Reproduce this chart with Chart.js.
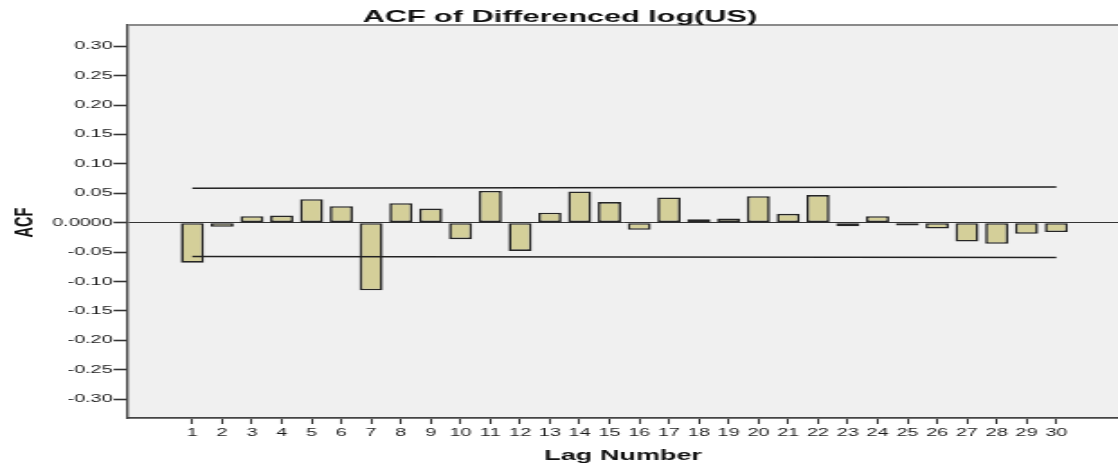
<!DOCTYPE html>
<html>
<head>
<meta charset="utf-8">
<script src="https://cdn.jsdelivr.net/npm/chart.js@4.4.1/dist/chart.umd.min.js"></script>
<style>
  html, body { margin: 0; padding: 0; background: #ffffff; overflow: hidden; }
  #wrap { width: 621px; height: 468px; transform: scaleX(1.8003); transform-origin: 0 0; }
</style>
</head>
<body>
<div id="wrap"><canvas id="c" width="621" height="468"></canvas></div>
<script>
// ---- data ----
const lags = [1,2,3,4,5,6,7,8,9,10,11,12,13,14,15,16,17,18,19,20,21,22,23,24,25,26,27,28,29,30];
const acfValues = [-0.068,-0.007,0.011,0.012,0.040,0.028,-0.115,0.033,0.024,-0.028,
                   0.054,-0.048,0.017,0.053,0.035,-0.012,0.043,0.006,0.007,0.045,
                   0.015,0.047,-0.006,0.011,-0.005,-0.010,-0.032,-0.036,-0.019,-0.016];
const limitLags = [1, 30];
const upperLimit = [0.0585, 0.0605];
const lowerLimit = [-0.0575, -0.0590];
const yTickValues = [0.30,0.25,0.20,0.15,0.10,0.05,0,-0.05,-0.10,-0.15,-0.20,-0.25,-0.30];
const yTickLabels = ['0.30','0.25','0.20','0.15','0.10','0.05','0.0000','-0.05','-0.10','-0.15','-0.20','-0.25','-0.30'];
const titleText = 'ACF of Differenced log(US)';
const xTitleText = 'Lag Number';
const yTitleText = 'ACF';

const FONT = '"Liberation Sans", Arial, sans-serif';

const plotBg = {
  id: 'plotBg',
  beforeDraw(chart) {
    const {ctx, chartArea: a} = chart;
    ctx.save();
    ctx.fillStyle = '#f0f0f0';
    ctx.fillRect(a.left, a.top, a.right - a.left, a.bottom - a.top);
    ctx.restore();
  },
  afterDraw(chart) {
    const {ctx, chartArea: a} = chart;
    ctx.save();
    ctx.strokeStyle = '#8a8a8a';
    ctx.lineWidth = 2;
    ctx.beginPath();
    ctx.moveTo(a.left, a.top);
    ctx.lineTo(a.right, a.top);
    ctx.stroke();
    ctx.fillStyle = '#111';
    ctx.textAlign = 'center';
    ctx.textBaseline = 'alphabetic';
    ctx.font = 'bold 17px ' + FONT;
    ctx.fillText(titleText, 311, 22);
    ctx.font = 'bold 15px ' + FONT;
    ctx.fillText(xTitleText, (a.left + a.right) / 2, 460);
    ctx.translate(18.3, 222.5);
    ctx.rotate(-Math.PI / 2);
    ctx.font = 'bold 14.5px ' + FONT;
    ctx.fillText(yTitleText, 0, 0);
    ctx.restore();
  }
};

new Chart(document.getElementById('c'), {
  type: 'bar',
  data: {
    datasets: [
      {
        type: 'line',
        data: limitLags.map((x, i) => ({x: x, y: upperLimit[i]})),
        borderColor: '#222', borderWidth: 1.5, pointRadius: 0, fill: false, order: 0
      },
      {
        type: 'line',
        data: limitLags.map((x, i) => ({x: x, y: lowerLimit[i]})),
        borderColor: '#222', borderWidth: 1.5, pointRadius: 0, fill: false, order: 0
      },
      {
        type: 'bar',
        data: lags.map((x, i) => ({x: x, y: acfValues[i]})),
        backgroundColor: 'rgb(212,207,153)',
        borderColor: '#262626',
        borderWidth: 1.6,
        borderSkipped: false,
        barPercentage: 0.78,
        categoryPercentage: 1.0,
        order: 1
      }
    ]
  },
  options: {
    responsive: false,
    animation: false,
    devicePixelRatio: 1,
    layout: { padding: { top: 25, right: 0, left: 0, bottom: 0 } },
    plugins: { legend: { display: false }, tooltip: { enabled: false }, title: { display: false } },
    scales: {
      x: {
        type: 'linear',
        min: -1.16, max: 32.07,
        offset: false,
        afterBuildTicks(scale) { scale.ticks = lags.map(v => ({value: v})); },
        afterFit(scale) { scale.height = 50; },
        grid: { display: true, drawOnChartArea: false, drawTicks: true, tickLength: 6, tickColor: '#333', tickWidth: 1.1, offset: false },
        border: { display: true, color: '#444', width: 1.8 },
        ticks: {
          autoSkip: false, maxRotation: 0, minRotation: 0, padding: 2,
          color: '#1a1a1a', font: { family: FONT, size: 11 },
          callback: (v) => String(v)
        }
      },
      y: {
        type: 'linear',
        min: -0.332, max: 0.336,
        afterBuildTicks(scale) { scale.ticks = yTickValues.map(v => ({value: v})); },
        afterFit(scale) { scale.width = 71.1; },
        grid: {
          drawOnChartArea: true, drawTicks: true, tickLength: 8,
          color: (c) => (c.tick && Math.abs(c.tick.value) < 1e-9) ? '#333' : 'rgba(0,0,0,0)',
          lineWidth: 1, tickColor: '#333', tickWidth: 1.6
        },
        border: { display: true, color: '#444', width: 1.4 },
        ticks: {
          padding: 0.5, color: '#1a1a1a', font: { family: FONT, size: 11 },
          callback: (v, i) => yTickLabels[i]
        }
      }
    }
  },
  plugins: [plotBg]
});
</script>
</body>
</html>
